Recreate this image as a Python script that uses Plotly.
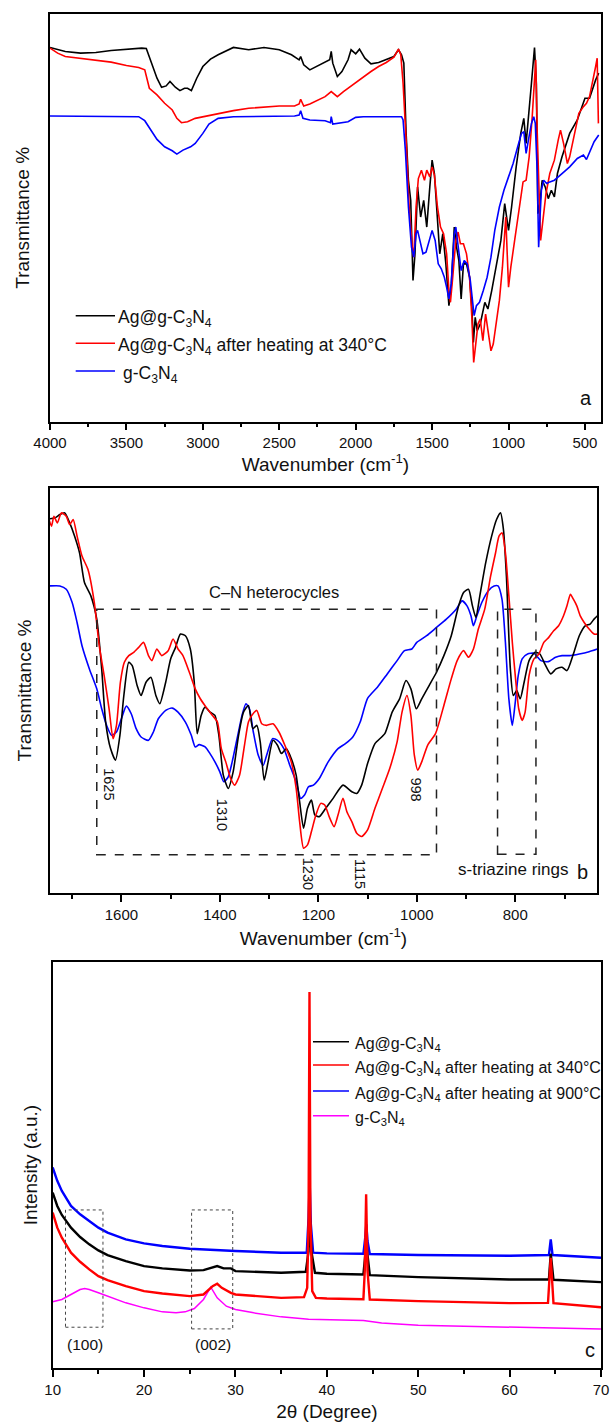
import plotly.graph_objects as go

# ---------------- Panel a : FTIR full range ----------------
a_black_x = [4000,3900,3800,3700,3600,3500,3400,3370,3330,3300,3270,3240,3215,3180,3150,3120,3100,3075,3040,3000,2950,2900,2800,2700,2600,2500,2420,2370,2360,2340,2300,2260,2200,2170,2160,2150,2120,2090,2050,2030,2000,1975,1940,1900,1850,1800,1750,1720,1700,1685,1670,1655,1640,1625,1612,1595,1575,1555,1535,1515,1500,1485,1465,1450,1430,1410,1390,1375,1355,1340,1325,1310,1295,1275,1255,1240,1230,1218,1205,1185,1155,1135,1110,1080,1050,1025,1000,980,950,920,900,885,870,850,830,818,808,795,780,760,740,720,700,680,650,600,550,500,470,450,430,410]
a_black_y = [111.9,110.7,110.2,110.4,111.0,111.4,111.7,111.6,106.2,102.7,100.0,100.4,101.7,100.0,99.0,99.7,99.7,99.0,102.7,106.2,108.4,109.7,111.9,111.2,111.9,111.2,109.7,108.2,109.2,106.7,105.2,106.2,107.7,108.2,110.7,107.2,103.2,104.7,108.2,111.2,110.0,111.4,108.7,107.0,107.4,108.2,109.2,111.2,109.7,107.2,86.2,72.2,66.2,42.2,50.2,70.2,61.2,66.2,58.2,70.2,78.2,74.2,61.2,50.2,56.2,47.2,34.7,40.2,58.2,52.2,48.2,36.7,47.2,47.2,43.2,34.2,23.7,31.2,27.2,29.2,35.7,33.7,39.2,46.2,54.2,65.2,57.2,64.2,76.2,86.2,90.7,83.2,90.2,101.2,111.9,101.2,62.2,65.2,72.2,70.2,66.7,69.2,67.2,74.2,79.2,86.2,90.2,96.7,96.7,99.7,102.2,104.2]

a_red_x = [4000,3950,3900,3800,3700,3600,3500,3420,3380,3350,3300,3250,3200,3170,3140,3100,3050,3000,2900,2800,2700,2600,2500,2400,2370,2360,2340,2300,2250,2200,2160,2120,2080,2000,1950,1900,1850,1800,1750,1720,1705,1690,1670,1650,1630,1620,1605,1590,1570,1550,1535,1515,1500,1485,1465,1445,1425,1405,1390,1380,1365,1345,1330,1315,1295,1275,1255,1240,1228,1215,1200,1185,1168,1150,1130,1115,1100,1080,1060,1040,1025,1018,1000,985,960,930,905,885,865,845,830,822,812,800,790,775,755,730,700,675,660,640,615,600,570,540,510,490,470,450,430,420,412]
a_red_y = [111.7,110.2,109.2,108.7,108.0,107.5,106.5,105.9,105.2,99.7,97.7,95.2,93.2,90.7,89.4,89.7,90.7,91.2,92.2,93.0,93.7,94.0,94.4,94.4,95.0,96.4,94.4,95.0,96.2,97.2,98.7,97.2,98.7,101.4,103.2,104.7,106.2,107.4,109.0,111.4,109.7,101.2,84.2,64.2,52.2,49.2,64.2,72.7,75.2,72.2,75.2,73.2,76.2,73.7,64.2,58.2,56.2,50.2,39.2,35.7,43.2,54.2,56.7,53.2,53.2,50.2,43.2,31.2,17.7,23.2,29.2,30.7,24.2,32.2,26.2,21.2,23.2,30.2,36.2,46.2,56.2,61.2,40.2,46.2,54.2,64.2,71.7,72.2,79.2,91.2,103.2,108.2,86.2,64.2,54.2,60.2,68.2,74.2,78.2,84.2,87.2,83.2,77.2,79.2,86.2,92.2,94.2,95.2,97.2,101.2,106.2,108.7,89.2]

a_blue_x = [4000,3500,3420,3380,3340,3300,3250,3200,3170,3130,3080,3050,3000,2960,2900,2800,2400,2370,2360,2345,2300,2200,2165,2160,2150,2100,2050,2000,1950,1700,1690,1675,1655,1635,1620,1605,1595,1580,1560,1540,1520,1500,1480,1460,1440,1420,1405,1390,1375,1355,1345,1330,1310,1290,1270,1250,1235,1225,1210,1190,1165,1140,1115,1090,1060,1030,1000,970,940,915,900,885,870,850,835,825,812,803,795,785,770,750,730,700,650,600,550,510,490,470,440,410]
a_blue_y = [91.4,91.4,91.2,90.0,87.2,84.4,82.2,81.0,80.0,81.2,82.2,83.2,86.2,89.0,90.7,91.2,91.4,91.7,93.0,90.7,90.2,90.0,89.4,91.2,89.0,89.4,89.7,91.0,91.2,91.2,90.2,81.2,64.2,52.2,49.2,56.2,57.2,54.2,50.2,50.7,54.2,57.2,54.2,47.2,45.7,43.2,40.2,36.7,41.2,56.2,58.2,53.2,45.2,48.2,47.2,42.2,36.2,31.7,34.7,35.7,39.2,43.2,49.2,57.2,64.2,69.2,73.2,77.2,82.2,86.2,86.7,80.2,84.2,89.2,91.2,89.2,74.2,52.2,60.2,69.2,72.2,71.2,71.7,72.2,74.2,76.2,78.7,79.7,78.4,80.7,83.7,85.7]

# ---------------- Panel b : FTIR zoom ----------------
b_black_x = [1747,1735,1725,1715,1705,1695,1685,1675,1662,1650,1640,1632,1622,1612,1603,1595,1585,1578,1568,1560,1550,1540,1530,1522,1510,1500,1490,1480,1470,1460,1452,1446,1438,1430,1420,1410,1402,1393,1383,1373,1362,1352,1342,1333,1325,1318,1310,1302,1292,1283,1275,1265,1255,1245,1238,1230,1222,1214,1207,1198,1185,1170,1150,1132,1122,1112,1100,1085,1065,1050,1035,1022,1012,1001,990,975,960,945,930,915,905,895,887,880,872,860,848,838,830,824,818,810,804,797,790,782,772,760,750,740,728,717,705,695,682,670,658,648,640,633]
b_black_y = [112.7,113.0,114.0,114.5,111.5,107.5,102.5,93.5,89.5,82.5,67.5,51.5,43.5,40.0,47.5,59.5,69.5,68.5,62.5,59.5,63.5,65.0,59.5,57.0,63.5,70.5,74.0,78.0,77.5,73.5,63.5,48.0,53.5,56.0,54.5,53.5,47.5,35.5,31.5,36.5,47.5,54.5,56.5,49.5,50.5,45.5,34.0,39.5,46.0,44.5,42.0,43.5,40.5,35.5,27.5,19.5,25.5,28.0,23.5,23.0,25.5,28.5,32.5,30.5,30.0,32.5,39.0,45.0,48.0,54.5,58.5,64.0,61.5,55.5,58.5,62.5,66.5,71.5,77.5,86.5,90.5,91.5,86.5,83.0,89.5,99.5,107.5,112.5,114.5,109.5,95.5,67.5,59.5,61.0,58.5,63.5,70.0,72.5,72.0,69.0,66.0,67.5,68.0,67.0,72.0,77.5,80.5,81.0,82.5,83.5]

b_red_x = [1747,1742,1737,1730,1722,1712,1705,1698,1690,1680,1668,1655,1645,1635,1625,1617,1610,1602,1594,1585,1575,1565,1555,1545,1538,1528,1518,1505,1495,1485,1475,1462,1450,1440,1428,1415,1405,1397,1388,1378,1370,1360,1350,1342,1335,1325,1315,1305,1292,1280,1268,1255,1245,1238,1230,1222,1214,1205,1195,1187,1178,1168,1160,1150,1142,1132,1122,1112,1100,1085,1070,1055,1040,1030,1020,1012,1005,998,990,978,962,945,930,918,905,895,885,875,862,850,840,833,827,820,813,806,800,793,786,780,772,762,752,742,732,722,712,702,695,688,682,675,668,660,650,640,633]
b_red_y = [112.5,110.5,113.5,111.5,114.5,113.5,111.0,112.5,107.5,101.5,97.5,87.5,74.5,65.5,55.5,46.5,50.5,63.5,69.5,71.5,72.5,74.0,75.5,71.5,70.0,73.5,71.5,73.0,76.5,73.5,71.5,66.5,61.5,58.6,56.0,53.5,51.5,43.5,39.5,34.5,32.5,35.5,44.5,51.5,53.5,55.0,51.0,50.5,51.0,48.5,44.5,39.5,31.5,21.5,13.5,14.5,18.5,23.5,27.0,26.5,23.0,20.0,23.5,28.5,24.5,21.5,18.0,17.0,19.0,25.5,31.5,37.5,45.5,54.5,59.5,53.5,41.5,37.0,39.5,44.5,48.0,56.5,64.5,70.0,73.0,71.0,73.5,79.5,85.5,95.5,102.5,107.5,108.5,102.5,89.5,75.5,65.5,55.5,52.0,54.5,65.5,70.5,72.0,75.5,77.0,79.0,80.5,83.5,86.5,90.0,88.5,86.5,83.5,81.5,79.5,78.0,78.0]

b_blue_x = [1747,1725,1712,1700,1690,1680,1665,1650,1640,1630,1620,1610,1600,1590,1580,1570,1560,1545,1535,1525,1510,1497,1485,1470,1458,1450,1442,1430,1420,1410,1400,1392,1383,1375,1365,1355,1347,1340,1332,1322,1312,1303,1293,1283,1270,1258,1245,1236,1228,1220,1210,1198,1180,1160,1145,1130,1115,1100,1080,1060,1040,1025,1010,1000,980,960,940,920,908,898,890,885,878,868,855,843,835,827,820,813,806,800,794,786,775,762,748,733,718,705,690,670,650,633]
b_blue_y = [92.5,92.5,91.5,87.5,81.5,74.5,67.5,61.5,55.5,50.5,47.5,48.5,52.5,56.3,54.0,49.5,47.0,46.0,48.5,52.5,55.0,55.7,54.5,51.5,47.5,44.0,44.7,44.0,42.0,39.5,36.5,33.5,35.0,39.5,46.5,53.5,57.0,55.5,48.5,41.5,38.5,42.5,46.5,46.0,43.5,38.5,33.5,28.5,29.5,32.0,32.5,34.5,39.5,43.5,45.0,47.0,51.5,58.6,62.0,66.0,70.0,73.0,73.5,75.5,77.5,80.0,82.5,85.5,88.0,86.5,83.5,80.5,83.5,87.5,91.0,92.5,92.5,88.5,75.5,58.5,50.5,57.5,65.5,70.5,72.0,72.2,70.0,69.7,71.0,71.5,71.5,72.0,72.7,73.5]

# ---------------- Panel c : XRD ----------------
c_black_x = [10,10.5,11,12,13,14,15,16,18,20,22,25,26.5,27.5,28,28.7,29.5,30,35,37.7,38.0,38.12,38.3,38.7,40,44.0,44.32,44.7,50,60,64.3,64.5,64.8,70]
c_black_y = [52.5,48.5,45.8,42.0,39.2,37.0,35.2,33.8,32.0,30.5,29.8,29.2,29.3,30.2,30.5,29.8,29.8,29.0,28.5,28.8,35.0,46.5,35.0,28.5,28.2,28.0,37.0,27.8,27.2,26.5,26.5,34.2,26.4,25.7]

c_red_x = [10,10.5,11,12,13,14,15,16,18,20,22,25,26.5,27.5,28,28.5,29.5,30,35,37.5,37.85,38.0,38.1,38.2,38.4,38.8,40,44.0,44.15,44.3,44.45,44.7,50,60,64.2,64.5,64.8,70]
c_red_y = [46.5,42.0,39.0,34.5,31.8,29.5,27.5,26.3,24.5,23.0,22.3,21.5,22.0,24.5,25.2,24.0,22.5,22.0,21.0,21.2,24.0,45.0,112.5,45.0,23.0,21.0,20.8,20.6,29.0,52.0,29.0,20.5,20.0,19.4,19.5,33.0,19.4,18.2]

c_blue_x = [10,10.5,11,12,13,14,15,16,18,20,22,25,28,30,35,37.8,38.0,38.12,38.25,38.5,40,44.0,44.2,44.32,44.45,44.7,50,60,64.3,64.5,64.7,70]
c_blue_y = [60.0,56.0,53.0,48.5,46.0,44.0,42.0,40.5,38.5,37.3,36.5,35.7,35.2,35.0,34.5,34.5,45.0,55.5,43.0,34.5,34.3,34.2,39.0,43.0,38.0,34.1,33.8,33.6,33.8,38.5,33.8,33.0]

c_mag_x = [10,11,12,13,13.5,14,15,16,18,20,22,23.5,24.5,25.5,26.5,27.3,28,29,30,32,35,38,41,44,46,50,55,60,65,70]
c_mag_y = [19.8,20.5,22.0,23.5,23.8,23.5,22.5,21.5,19.5,18.0,16.8,16.5,16.8,17.8,20.5,24.2,21.0,18.5,17.5,16.5,15.3,14.6,14.5,14.2,13.5,12.8,12.5,12.2,11.9,11.7]

# ---------------- labels ----------------
legend_a = ["Ag@g-C<sub>3</sub>N<sub>4</sub>",
            "Ag@g-C<sub>3</sub>N<sub>4</sub> after heating at 340°C",
            "g-C<sub>3</sub>N<sub>4</sub>"]
legend_c = ["Ag@g-C<sub>3</sub>N<sub>4</sub>",
            "Ag@g-C<sub>3</sub>N<sub>4</sub> after heating at 340°C",
            "Ag@g-C<sub>3</sub>N<sub>4</sub> after heating at 900°C",
            "g-C<sub>3</sub>N<sub>4</sub>"]
peak_labels = ["1625", "1310", "1230", "1115", "998"]
peak_label_x = [1624, 1394, 1221, 1114, 1001]
peak_label_y = [32.9, 23.6, 5.8, 5.8, 31.1]

BLACK, RED, BLUE, MAG = "#000000", "#ff0000", "#0000ff", "#ff00ff"
FONT = "Liberation Sans"

fig = go.Figure()
lw = 1.6
for x, y, c in [(a_black_x, a_black_y, BLACK), (a_red_x, a_red_y, RED), (a_blue_x, a_blue_y, BLUE)]:
    fig.add_trace(go.Scatter(x=x, y=y, mode="lines", line=dict(color=c, width=lw),
                             xaxis="x", yaxis="y", showlegend=False))
for x, y, c in [(b_blue_x, b_blue_y, BLUE), (b_black_x, b_black_y, BLACK), (b_red_x, b_red_y, RED)]:
    fig.add_trace(go.Scatter(x=x, y=y, mode="lines", line=dict(color=c, width=lw, shape="spline", smoothing=0.6),
                             xaxis="x2", yaxis="y2", showlegend=False))
for x, y, c, w in [(c_mag_x, c_mag_y, MAG, 1.5), (c_blue_x, c_blue_y, BLUE, 2.4),
                   (c_black_x, c_black_y, BLACK, 2.4), (c_red_x, c_red_y, RED, 2.4)]:
    fig.add_trace(go.Scatter(x=x, y=y, mode="lines", line=dict(color=c, width=w),
                             xaxis="x3", yaxis="y3", showlegend=False))

L, R, T, B, W, H = 50, 10, 14, 55, 611, 1423
PW, PH = W - L - R, H - T - B
def px(xp):
    return (xp - L) / PW
def py(yp):
    return 1 - (yp - T) / PH

tickfont = dict(family=FONT, size=15, color="#111111")
titlefont = dict(family=FONT, size=19, color="#111111")

def xax(domain, rng, dtick, minor, title, anchor, standoff):
    return dict(domain=domain, range=rng, dtick=dtick, tick0=0, anchor=anchor, automargin=False,
                showline=True, mirror=True, linecolor="black", linewidth=1.5,
                ticks="outside", ticklen=7, tickwidth=1.5, tickcolor="black",
                minor=dict(dtick=minor, tick0=0, ticks="outside", ticklen=4, tickwidth=1.5, tickcolor="black"),
                showgrid=False, zeroline=False, tickfont=tickfont,
                title=dict(text=title, font=titlefont, standoff=standoff))

def yax(domain, rng, title, anchor, standoff):
    return dict(domain=domain, range=rng, anchor=anchor, automargin=False, showline=True, mirror=True,
                linecolor="black", linewidth=1.5, ticks="", showticklabels=False,
                showgrid=False, zeroline=False,
                title=dict(text=title, font=titlefont, standoff=standoff))

layout = dict(
    width=W, height=H, margin=dict(l=L, r=R, t=T, b=B, autoexpand=False),
    paper_bgcolor="white", plot_bgcolor="white", showlegend=False,
    font=dict(family=FONT, size=15, color="#111111"),
    xaxis=xax([0, 1], [4000, 395], 500, 250, "Wavenumber (cm<sup>-1</sup>)", "y", 3),
    yaxis=yax([py(421.7), 1], [0, 121.9], "Transmittance %", "x", 14),
    xaxis2=xax([0, px(597)], [1745, 634], 200, 100, "Wavenumber (cm<sup>-1</sup>)", "y2", 10),
    yaxis2=yax([py(893), py(488)], [0, 122], "Transmittance %", "x2", 12),
    xaxis3=xax([px(52.7), 1], [10, 70], 10, 5, "2θ (Degree)", "y3", 8),
    yaxis3=yax([0, py(962)], [0, 121.5], "Intensity (a.u.)", "x3", 8),
)
fig.update_layout(**layout)

shapes = []
annos = []
# legend a
for i, (txt, c) in enumerate(zip(legend_a, [BLACK, RED, BLUE])):
    yy = py([315.7, 343.3, 371][i])
    shapes.append(dict(type="line", xref="paper", yref="paper", x0=px(75.7), x1=px(115), y0=yy, y1=yy,
                       line=dict(color=c, width=1.6)))
    annos.append(dict(text=txt, xref="paper", yref="paper", x=px(116 if i < 2 else 121), y=yy,
                      xanchor="left", yanchor="middle", yshift=-3, showarrow=False,
                      font=dict(family=FONT, size=17.5, color="#111111")))
# legend c
for i, (txt, c) in enumerate(zip(legend_c, [BLACK, RED, BLUE, MAG])):
    yy = py([1041.7, 1065, 1091, 1115.7][i])
    shapes.append(dict(type="line", xref="paper", yref="paper", x0=px(313), x1=px(349), y0=yy, y1=yy,
                       line=dict(color=c, width=1.6)))
    annos.append(dict(text=txt, xref="paper", yref="paper", x=px(353), y=yy,
                      xanchor="left", yanchor="middle", yshift=-3, showarrow=False,
                      font=dict(family=FONT, size=16, color="#111111")))

# panel b boxes and labels
shapes.append(dict(type="rect", xref="x2", yref="y2", x0=1650, x1=960, y0=11.5, y1=85.5,
                   line=dict(color="#222222", width=1.5, dash="dash")))
shapes.append(dict(type="rect", xref="x2", yref="y2", x0=836, x1=758, y0=11.7, y1=85.5,
                   line=dict(color="#222222", width=1.5, dash="dash")))
annos.append(dict(text="C\u2013N heterocycles", xref="x2", yref="y2", x=1290, y=90.7,
                  showarrow=False, font=dict(family=FONT, size=16.5, color="#111111")))
for t, x, y in zip(peak_labels, peak_label_x, peak_label_y):
    annos.append(dict(text=t, xref="x2", yref="y2", x=x, y=y, textangle=90, showarrow=False,
                      font=dict(family=FONT, size=14.5, color="#111111")))
annos.append(dict(text="s-triazine rings", xref="x2", yref="y2", x=686, y=7.0, xanchor="right",
                  showarrow=False, font=dict(family=FONT, size=17, color="#111111")))
annos.append(dict(text="b", xref="x2", yref="y2", x=664, y=6.3, showarrow=False,
                  font=dict(family=FONT, size=20, color="#111111")))
annos.append(dict(text="a", xref="x", yref="y", x=495, y=7.2, showarrow=False,
                  font=dict(family=FONT, size=20, color="#111111")))

# panel c boxes and labels
shapes.append(dict(type="rect", xref="x3", yref="y3", x0=11.4, x1=15.5, y0=12.2, y1=47.3,
                   line=dict(color="#444444", width=1, dash="dot")))
shapes.append(dict(type="rect", xref="x3", yref="y3", x0=25.2, x1=29.7, y0=11.7, y1=47.3,
                   line=dict(color="#444444", width=1, dash="dot")))
annos.append(dict(text="(100)", xref="x3", yref="y3", x=13.5, y=6.9, showarrow=False,
                  font=dict(family=FONT, size=15.5, color="#111111")))
annos.append(dict(text="(002)", xref="x3", yref="y3", x=27.5, y=6.9, showarrow=False,
                  font=dict(family=FONT, size=15.5, color="#111111")))
annos.append(dict(text="c", xref="x3", yref="y3", x=68.8, y=5.5, showarrow=False,
                  font=dict(family=FONT, size=20, color="#111111")))

fig.update_layout(shapes=shapes, annotations=annos)
fig.write_html("out.html")
